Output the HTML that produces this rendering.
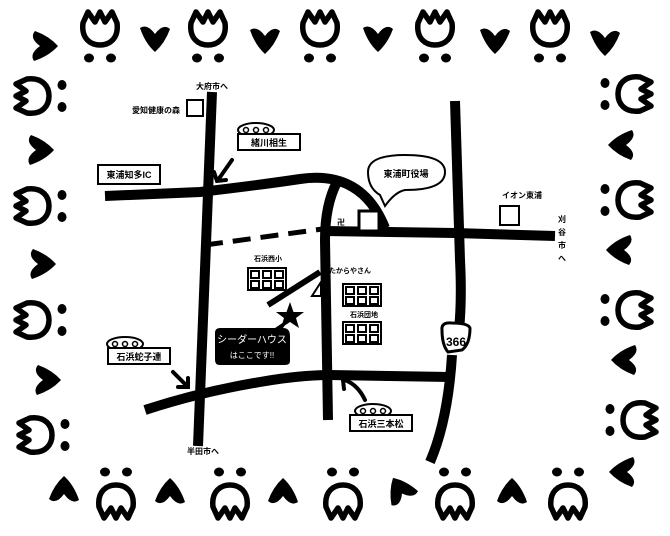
<!DOCTYPE html>
<html><head><meta charset="utf-8"><style>
html,body{margin:0;padding:0;background:#fff;}
svg{display:block;font-family:"Liberation Sans","Noto Sans CJK JP",sans-serif;font-weight:bold;}
</style></head><body>
<svg width="670" height="536" viewBox="0 0 670 536" xmlns="http://www.w3.org/2000/svg">
<defs>
<g id="tu">
<path d="M-17,-10 L-12,-21 L-5,-11 L0,-21 L5,-11 L12,-21 L17,-10 C19,6 9,12 0,12 C-9,12 -19,6 -17,-10 Z" fill="#fff" stroke="#000" stroke-width="5.5" stroke-linejoin="round"/>
<ellipse cx="-11" cy="25" rx="5" ry="4.5" fill="#000"/>
<ellipse cx="11" cy="25" rx="5" ry="4.5" fill="#000"/>
</g>
<path id="ht" d="M-15,-10 Q-8,-15 0,-4 Q8,-15 15,-9 Q10,5 0,14 Q-10,5 -15,-10 Z" fill="#000"/>
</defs>
<!-- top row -->
<use href="#ht" transform="translate(44,46) rotate(-90)"/>
<use href="#tu" transform="translate(100,33)"/>
<use href="#ht" transform="translate(155,38)"/>
<use href="#tu" transform="translate(208,33)"/>
<use href="#ht" transform="translate(265,40)"/>
<use href="#tu" transform="translate(320,33)"/>
<use href="#ht" transform="translate(378,38)"/>
<use href="#tu" transform="translate(435,33)"/>
<use href="#ht" transform="translate(495,40)"/>
<use href="#tu" transform="translate(550,33)"/>
<use href="#ht" transform="translate(605,42)"/>
<!-- bottom row -->
<use href="#ht" transform="translate(64,490) rotate(180)"/>
<use href="#tu" transform="translate(116,497) rotate(180)"/>
<use href="#ht" transform="translate(170,492) rotate(180)"/>
<use href="#tu" transform="translate(230,497) rotate(180)"/>
<use href="#ht" transform="translate(283,492) rotate(180)"/>
<use href="#tu" transform="translate(343,497) rotate(180)"/>
<use href="#ht" transform="translate(400,490) rotate(150)"/>
<use href="#tu" transform="translate(455,497) rotate(180)"/>
<use href="#ht" transform="translate(512,492) rotate(180)"/>
<use href="#tu" transform="translate(568,497) rotate(180)"/>
<use href="#ht" transform="translate(623,472) rotate(90)"/>
<!-- left column -->
<use href="#tu" transform="translate(37,96) rotate(-90)"/>
<use href="#ht" transform="translate(40,150) rotate(-90)"/>
<use href="#tu" transform="translate(37,206) rotate(-90)"/>
<use href="#ht" transform="translate(42,264) rotate(-90)"/>
<use href="#tu" transform="translate(37,320) rotate(-90)"/>
<use href="#ht" transform="translate(47,380) rotate(-90)"/>
<use href="#tu" transform="translate(40,435) rotate(-90)"/>
<!-- right column -->
<use href="#tu" transform="translate(630,94) rotate(90)"/>
<use href="#ht" transform="translate(622,145) rotate(90)"/>
<use href="#tu" transform="translate(630,200) rotate(90)"/>
<use href="#ht" transform="translate(620,250) rotate(90)"/>
<use href="#tu" transform="translate(630,310) rotate(90)"/>
<use href="#ht" transform="translate(625,360) rotate(90)"/>
<use href="#tu" transform="translate(635,420) rotate(90)"/>

<!-- roads -->
<g fill="none" stroke="#000" stroke-width="10" stroke-linecap="butt">
<path d="M212,92 L198,446"/>
<path d="M105,196 L200,192 Q260,185 300,179 Q362,170 385,228"/>
<path d="M337,182 Q325,205 325,240 L328,420"/>
<path d="M325,231 L455,233 L555,236"/>
<path d="M455,101 L460,260 Q462,300 459,330"/>
<path d="M452,355 Q448,420 430,462"/>
<path d="M145,410 Q200,392 260,382 Q300,375 330,375 L450,377"/>
<path d="M268,305 L320,272" stroke-width="6"/>
<path d="M205,245 L330,228" stroke-width="5" stroke-dasharray="18,10"/>
</g>
<!-- small shapes -->
<rect x="359" y="211" width="20" height="20" fill="#fff" stroke="#000" stroke-width="3"/>
<path d="M321,282 L321,296 L312,296 Z" fill="#fff" stroke="#000" stroke-width="2"/>
<rect x="187" y="100" width="16" height="16" fill="#fff" stroke="#000" stroke-width="2"/>
<rect x="500" y="206" width="19" height="19" fill="#fff" stroke="#000" stroke-width="2"/>
<!-- buildings -->
<g fill="#fff" stroke="#000" stroke-width="2">
<rect x="248" y="268" width="38" height="22"/>
<rect x="251" y="271" width="8" height="7"/><rect x="263" y="271" width="8" height="7"/><rect x="275" y="271" width="8" height="7"/>
<rect x="251" y="281" width="8" height="7"/><rect x="263" y="281" width="8" height="7"/><rect x="275" y="281" width="8" height="7"/>
<rect x="343" y="284" width="38" height="22"/>
<rect x="346" y="287" width="8" height="7"/><rect x="358" y="287" width="8" height="7"/><rect x="370" y="287" width="8" height="7"/>
<rect x="346" y="297" width="8" height="7"/><rect x="358" y="297" width="8" height="7"/><rect x="370" y="297" width="8" height="7"/>
<rect x="343" y="322" width="38" height="22"/>
<rect x="346" y="325" width="8" height="7"/><rect x="358" y="325" width="8" height="7"/><rect x="370" y="325" width="8" height="7"/>
<rect x="346" y="335" width="8" height="7"/><rect x="358" y="335" width="8" height="7"/><rect x="370" y="335" width="8" height="7"/>
</g>
<!-- star -->
<polygon points="290,302 293.5,312 304,312 296,318 299,328 290,322 281,328 284,318 276,312 286.5,312" fill="#000"/>
<!-- callout shi-da house -->
<path d="M220,328 L275,328 L290,318 L283,328 Q290,328 290,336 L290,361 Q290,365 285,365 L220,365 Q215,365 215,360 L215,333 Q215,328 220,328 Z" fill="#000"/>
<text x="252" y="343" font-size="10" fill="#fff" text-anchor="middle" font-weight="normal">シーダーハウス</text>
<text x="252" y="358" font-size="8" fill="#fff" text-anchor="middle" font-weight="normal">はここです!!</text>
<!-- town hall bubble -->
<path d="M385,206 L380,195 Q368,188 368,172 Q368,155 405,155 Q445,155 445,172 Q445,190 405,190 Q395,192 385,206 Z" fill="#fff" stroke="#000" stroke-width="2"/>
<text x="406" y="177" font-size="9" text-anchor="middle">東浦町役場</text>
<!-- 366 sign -->
<path d="M442,330 Q441,322 452,323 Q468,323 470,328 Q470,344 462,350 L448,352 Q442,345 442,330 Z" fill="#fff" stroke="#000" stroke-width="3"/>
<text x="456" y="346" font-size="12" text-anchor="middle">366</text>
<!-- station boxes -->
<g fill="#fff" stroke="#000" stroke-width="2">
<ellipse cx="256" cy="130" rx="18" ry="7"/>
<rect x="238" y="134" width="62" height="16"/>
<ellipse cx="125" cy="344" rx="18" ry="7"/>
<rect x="108" y="348" width="62" height="16"/>
<ellipse cx="373" cy="411" rx="18" ry="7"/>
<rect x="350" y="415" width="62" height="16"/>
<rect x="98" y="165" width="62" height="19"/>
</g>
<g fill="#fff" stroke="#000" stroke-width="1.5">
<circle cx="246" cy="130" r="2.5"/><circle cx="256" cy="130" r="2.5"/><circle cx="266" cy="130" r="2.5"/>
<circle cx="115" cy="344" r="2.5"/><circle cx="125" cy="344" r="2.5"/><circle cx="135" cy="344" r="2.5"/>
<circle cx="363" cy="411" r="2.5"/><circle cx="373" cy="411" r="2.5"/><circle cx="383" cy="411" r="2.5"/>
</g>
<g font-size="9">
<text x="269" y="146" text-anchor="middle">緒川相生</text>
<text x="139" y="360" text-anchor="middle">石浜蛇子連</text>
<text x="381" y="427" text-anchor="middle">石浜三本松</text>
<text x="129" y="178" text-anchor="middle">東浦知多IC</text>
<text x="212" y="89" text-anchor="middle" font-size="8">大府市へ</text>
<text x="180" y="113" text-anchor="end" font-size="8">愛知健康の森</text>
<text x="203" y="454" text-anchor="middle" font-size="8">半田市へ</text>
<text x="522" y="198" text-anchor="middle" font-size="8">イオン東浦</text>
<text x="268" y="261" text-anchor="middle" font-size="7">石浜西小</text>
<text x="350" y="273" text-anchor="middle" font-size="7">たからやさん</text>
<text x="364" y="317" text-anchor="middle" font-size="7">石浜団地</text>
<text x="337" y="225" font-size="8">卍</text>
<text x="562" y="222" font-size="8" text-anchor="middle">刈</text>
<text x="562" y="235" font-size="8" text-anchor="middle">谷</text>
<text x="562" y="248" font-size="8" text-anchor="middle">市</text>
<text x="562" y="261" font-size="8" text-anchor="middle">へ</text>
</g>
<!-- arrows -->
<g fill="none" stroke="#000" stroke-width="4" stroke-linecap="round">
<path d="M232,160 L218,180"/><path d="M214,172 L217,181 L226,180"/>
<path d="M173,372 L187,386"/><path d="M178,387 L188,387 L188,378"/>
<path d="M365,400 Q358,385 345,380"/><path d="M344,389 L343,380 L352,377"/>
</g>
</svg>
</body></html>
